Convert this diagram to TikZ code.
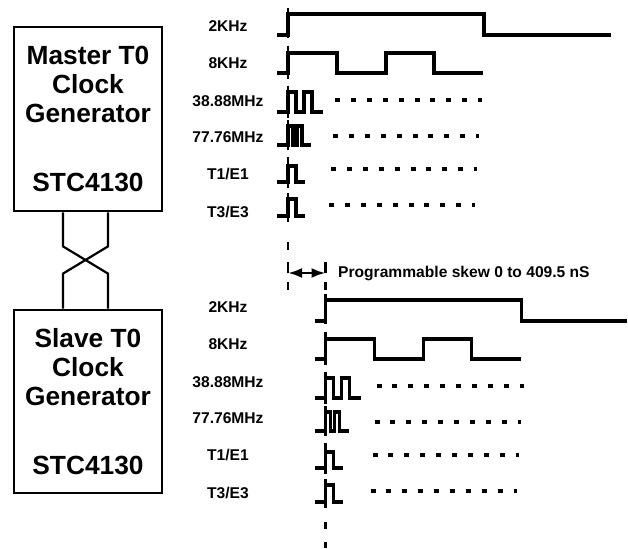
\documentclass[tikz,border=0pt]{standalone}
\usepackage{fontspec}
\setmainfont{Liberation Sans}
\usetikzlibrary{arrows.meta,positioning,calc}

\begin{document}
\begin{tikzpicture}[
    x=1pt, y=-1pt,
    gen/.style = {rectangle, draw, line width=2.8pt, minimum width=148pt, minimum height=184pt, inner sep=0pt, align=center, font=\fontsize{26.3pt}{29pt}\selectfont\bfseries},
    sig/.style = {font=\fontsize{15.6pt}{18pt}\selectfont\bfseries, inner sep=0pt},
    wave/.style = {line width=3.3pt},
    tick/.style = {line width=2.8pt},
    dots/.style = {line width=3.3pt, dash pattern=on 5pt off 10.9pt},
    link/.style = {line width=2.2pt},
    skew/.style = {line width=2.5pt, {Latex[length=14pt,width=10pt]}-{Latex[length=14pt,width=10pt]}}
]
    \useasboundingbox (0,0) rectangle (628,548);

    \node[gen] (master) at (88,119) {Master T0\\Clock\\Generator\\[40pt]STC4130};
    \node[gen, minimum height=183pt] (slave) at (88,401.5) {Slave T0\\Clock\\Generator\\[40pt]STC4130};

    % crossed lines between the two generators
    \draw[link] ([xshift=-25pt]master.south) -- ++(0,34) -- ([xshift=20pt,yshift=35pt]slave.north) -- ([xshift=20pt]slave.north);
    \draw[link] ([xshift=20pt]master.south) -- ++(0,34) -- ([xshift=-25pt,yshift=35pt]slave.north) -- ([xshift=-25pt]slave.north);

    % signal names and waveforms, master first, then slave
    \foreach \nm/\dx/\dy/\ly/\dd/\e in {m/0/0/0/0/611, s/37.5/286/281/4/589.5} {
        \foreach \t/\y [count=\i] in {2KHz/26.5, 8KHz/63, 38.88MHz/101, 77.76MHz/137, {T1/E1}/174, {T3/E3}/212}
            \node[sig] (\nm\i) at (228,\y+\ly) {\t};
        \begin{scope}[shift={(\dx,\dy)}]
            \draw[wave] (277,35) -- (288,35) -- (288,14) -- (484,14) -- (484,35) -- (\e,35);
            \draw[wave] (277,73) -- (288,73) -- (288,53) -- (337,53) -- (337,73) -- (386,73) -- (386,53) -- (434,53) -- (434,73) -- (483,73);
            \draw[wave] (277,112) -- (288,112) -- (288,92) -- (296,92) -- (296,112) -- (304,112) -- (304,92) -- (312,92) -- (312,112) -- (323,112);
            \draw[wave] (277,145) -- (288,145) -- (288,126) -- (293,126) -- (293,145) -- (297,145) -- (297,126) -- (302,126) -- (302,145) -- (311,145);
            \draw[wave] (277,182) -- (288,182) -- (288,166) -- (296,166) -- (296,182) -- (305,182);
            \draw[wave] (277,216) -- (288,216) -- (288,199) -- (296,199) -- (296,216) -- (305,216);
            \foreach \a/\b in {8/38, 46/79, 86/118, 120/150, 157/188, 193/222}
                \draw[tick] (288,\a) -- (288,\b);
            \begin{scope}[xshift=\dd pt]
                \draw[dots] (335,100) -- (482,100);
                \draw[dots] (333,136) -- (479,136);
                \draw[dots] (331,169) -- (477,169);
                \draw[dots] (329,205) -- (475,205);
            \end{scope}
        \end{scope}
    }

    % reference lines and skew
    \draw[tick, dash pattern=on 8pt off 12pt on 11pt off 9pt] (288,242) -- (288,290);
    \draw[tick, dash pattern=on 11pt off 9pt] (325.5,262) -- (325.5,290);
    \draw[tick, dash pattern=on 7pt off 13pt] (325.5,522) -- (325.5,548);
    \coordinate (mskew) at (288,273);
    \coordinate (sskew) at (325.5,273);
    \draw[skew] (mskew) -- (sskew);
    \node[sig, anchor=west] (skewtext) at (338,273) {Programmable skew 0 to 409.5 nS};
\end{tikzpicture}
\end{document}
